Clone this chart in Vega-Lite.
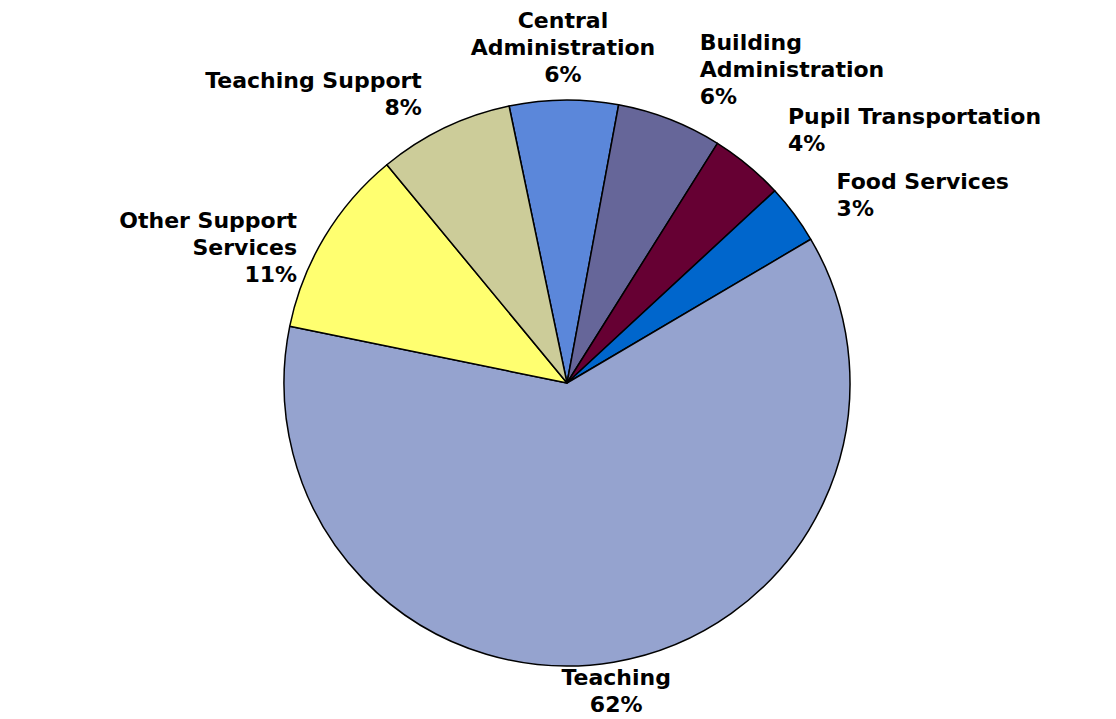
{
  "$schema": "https://vega.github.io/schema/vega-lite/v6.json",
  "width": 1116,
  "height": 719,
  "autosize": {"type": "fit", "contains": "padding"},
  "padding": {"left": 18, "top": 42, "right": 0, "bottom": 0},
  "background": "#ffffff",
  "config": {"view": {"stroke": null}},
  "data": {
    "values": [
      {"i": 1, "name": "Central Administration", "label": "Central\nAdministration\n6%", "value": 6.2},
      {"i": 2, "name": "Building Administration", "label": "Building\nAdministration\n6%", "value": 6.0},
      {"i": 3, "name": "Pupil Transportation", "label": "Pupil Transportation\n4%", "value": 4.2},
      {"i": 4, "name": "Food Services", "label": "Food Services\n3%", "value": 3.4},
      {"i": 5, "name": "Teaching", "label": "Teaching\n62%", "value": 61.7},
      {"i": 6, "name": "Other Support Services", "label": "Other Support\nServices\n11%", "value": 10.8},
      {"i": 7, "name": "Teaching Support", "label": "Teaching Support\n8%", "value": 7.7}
    ]
  },
  "encoding": {
    "theta": {"field": "value", "type": "quantitative", "stack": true, "scale": {"range": [-0.206, 6.077]}},
    "order": {"field": "i", "type": "quantitative"}
  },
  "layer": [
    {
      "mark": {"type": "arc", "radius": 283, "stroke": "#000000", "strokeWidth": 1.5, "strokeJoin": "round"},
      "encoding": {
        "color": {
          "field": "name", "type": "nominal", "legend": null,
          "scale": {
            "domain": ["Central Administration", "Building Administration", "Pupil Transportation", "Food Services", "Teaching", "Other Support Services", "Teaching Support"],
            "range": ["#5B87DA", "#666699", "#660033", "#0066CC", "#95A3CF", "#FFFF70", "#CCCC99"]
          }
        }
      }
    },
    {
      "mark": {"type": "text", "radius": 362, "align": "center", "baseline": "middle", "font": "DejaVu Sans", "fontWeight": "bold", "fontSize": 22, "lineHeight": 27, "lineBreak": "\n", "color": "#000000"},
      "encoding": {"text": {"condition": {"test": "datum.name === 'Central Administration'", "field": "label"}, "value": ""}}
    },
    {
      "mark": {"type": "text", "radius": 299, "align": "center", "baseline": "middle", "font": "DejaVu Sans", "fontWeight": "bold", "fontSize": 22, "lineHeight": 27, "lineBreak": "\n", "color": "#000000"},
      "encoding": {"text": {"condition": {"test": "datum.name === 'Teaching'", "field": "label"}, "value": ""}}
    },
    {
      "mark": {"type": "text", "radius": 365, "align": "left", "baseline": "middle", "font": "DejaVu Sans", "fontWeight": "bold", "fontSize": 22, "lineHeight": 27, "lineBreak": "\n", "color": "#000000"},
      "encoding": {"text": {"condition": {"test": "datum.name === 'Building Administration'", "field": "label"}, "value": ""}}
    },
    {
      "mark": {"type": "text", "radius": 346, "align": "left", "baseline": "middle", "font": "DejaVu Sans", "fontWeight": "bold", "fontSize": 22, "lineHeight": 27, "lineBreak": "\n", "color": "#000000"},
      "encoding": {"text": {"condition": {"test": "datum.name === 'Pupil Transportation'", "field": "label"}, "value": ""}}
    },
    {
      "mark": {"type": "text", "radius": 336, "align": "left", "baseline": "middle", "font": "DejaVu Sans", "fontWeight": "bold", "fontSize": 22, "lineHeight": 27, "lineBreak": "\n", "color": "#000000"},
      "encoding": {"text": {"condition": {"test": "datum.name === 'Food Services'", "field": "label"}, "value": ""}}
    },
    {
      "mark": {"type": "text", "radius": 335, "align": "right", "baseline": "middle", "font": "DejaVu Sans", "fontWeight": "bold", "fontSize": 22, "lineHeight": 27, "lineBreak": "\n", "color": "#000000"},
      "encoding": {"text": {"condition": {"test": "datum.name === 'Teaching Support'", "field": "label"}, "value": ""}}
    },
    {
      "mark": {"type": "text", "radius": 315, "align": "right", "baseline": "middle", "font": "DejaVu Sans", "fontWeight": "bold", "fontSize": 22, "lineHeight": 27, "lineBreak": "\n", "color": "#000000"},
      "encoding": {"text": {"condition": {"test": "datum.name === 'Other Support Services'", "field": "label"}, "value": ""}}
    }
  ]
}
